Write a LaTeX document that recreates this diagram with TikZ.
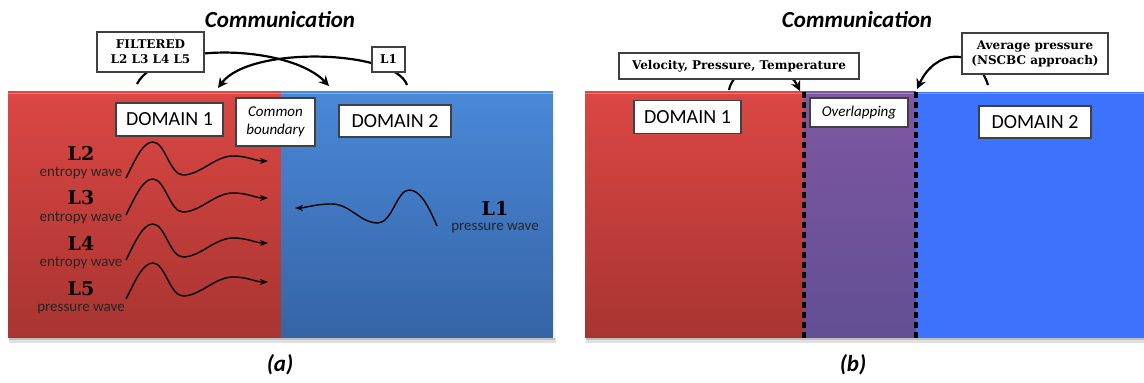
\documentclass[tikz,border=0pt]{standalone}
\usepackage{fontspec}
\setmainfont{Carlito}
\newfontfamily\heavyserif{DejaVu Serif}
\usetikzlibrary{positioning,arrows.meta,calc}
\definecolor{domred}{HTML}{DB4744}
\definecolor{domreddark}{HTML}{A83431}
\definecolor{domblue}{HTML}{4A88D8}
\definecolor{dombluedark}{HTML}{3564A5}
\definecolor{ovlpurple}{HTML}{7E57A2}
\definecolor{ovlpurpledark}{HTML}{624F93}
\definecolor{brightblue}{HTML}{3D72FC}

\begin{document}
\begin{tikzpicture}[x=0.5pt,y=-0.5pt,
  box/.style={draw=black!75, fill=white, line width=0.6pt, inner sep=0pt, align=center},
  domainbox/.style={box, font=\fontsize{10}{12}\selectfont},
  notebox/.style={box, font=\itshape\fontsize{7.5}{9}\selectfont},
  databox/.style={box, font=\heavyserif\bfseries\fontsize{6}{7.5}\selectfont},
  wavename/.style={font=\heavyserif\bfseries\fontsize{9.5}{11}\selectfont},
  wavetype/.style={font=\fontsize{7.5}{9}\selectfont, text=black!85},
  paneltitle/.style={font=\bfseries\itshape\fontsize{11.5}{14}\selectfont},
  comm/.style={line width=1.1pt, -{Stealth[length=5pt,width=5pt]}},
  wave/.style={line width=0.7pt, -{Stealth[length=4pt,width=3pt]}},
  iface/.style={line width=1.6pt, dash pattern=on 3pt off 2pt}]
  \useasboundingbox (0,0) rectangle (1144,383);

  % shadows under the domains
  \fill[black!12] (9,338) rectangle (556,343);
  \fill[black!25] (9,338) rectangle (555,340);
  \fill[black!12] (586,338) rectangle (1144,343);
  \fill[black!25] (586,338) rectangle (1144,340);

  % (a) two domains with a common boundary
  \shade[top color=domred, bottom color=domreddark] (8,92) rectangle (281,338);
  \shade[top color=domblue, bottom color=dombluedark] (281,92) rectangle (553,338);
  \draw[domred!70!white, line width=0.7pt] (8,93.4) -- (281,93.4);
  \draw[domblue!70!white, line width=0.7pt] (281,93.4) -- (553,93.4);

  % (b) overlapping domains
  \shade[top color=domred, bottom color=domreddark] (585,92) rectangle (804,338);
  \shade[top color=ovlpurple, bottom color=ovlpurpledark] (804,92) rectangle (916,338);
  \fill[brightblue] (916,92) rectangle (1144,338);
  \draw[domred!70!white, line width=0.7pt] (585,93.4) -- (804,93.4);
  \draw[ovlpurple!70!white, line width=0.7pt] (804,93.4) -- (916,93.4);
  \draw[brightblue!70!white, line width=0.7pt] (916,93.4) -- (1144,93.4);
  \draw[iface] (804,92) -- (804,338);
  \draw[iface] (916,92) -- (916,338);

  \node[paneltitle] (commA) at (280,20) {Communication};
  \node[paneltitle] (commB) at (857,20) {Communication};
  \node[paneltitle] (capA) at (280,365) {(a)};
  \node[paneltitle] (capB) at (853,365) {(b)};

  % waves leaving domain 1
  \foreach \pk/\ny/\name/\kind in {142/153/L2/entropy wave, 179/198/L3/entropy wave,
                                   224/243/L4/entropy wave, 263/289/L5/pressure wave} {
    \node[wavename] (name\name) at (81,\ny) {\name};
    \node[wavetype] (kind\name) at (81,\ny+20) {\kind};
    \draw[wave] (126,\pk+36) .. controls (136,\pk+16) and (143,\pk) .. (153,\pk)
      .. controls (165,\pk) and (170,\pk+33) .. (183,\pk+33)
      .. controls (200,\pk+33) and (215,\pk+14) .. (233,\pk+14)
      .. controls (248,\pk+14) and (255,\pk+19) .. (268,\pk+19);
  }
  % wave leaving domain 2
  \node[wavename] (nameL1) at (495,208) {L1};
  \node[wavetype] (kindL1) at (495,228) {pressure wave};
  \draw[wave] (437,226) .. controls (428,205) and (420,190) .. (409,190)
    .. controls (397,190) and (392,223) .. (378,223)
    .. controls (360,223) and (350,204) .. (332,204)
    .. controls (315,204) and (305,208) .. (295,208);

  % exchanged data
  \coordinate (outA1) at (137,84);
  \coordinate (inA2) at (329,86);
  \coordinate (outA2) at (407,85);
  \coordinate (inA1) at (218,88);
  \coordinate (outB1) at (729,90);
  \coordinate (inB1) at (800,91);
  \coordinate (outB2) at (988,85);
  \coordinate (inB2) at (917,89);
  \draw[comm] (outA1) .. controls (160,40) and (290,45) .. (inA2);
  \draw[comm] (outA2) .. controls (395,50) and (250,45) .. (inA1);
  \draw[comm] (outB1) .. controls (735,60) and (785,60) .. (inB1);
  \draw[comm] (outB2) .. controls (975,45) and (935,50) .. (inB2);

  \node[databox, minimum width=53.5pt, minimum height=20pt] (filtered) at (150.5,52) {FILTERED\\L2 L3 L4 L5};
  \node[databox, minimum width=16.5pt, minimum height=12.5pt] (sendL1) at (388.5,59.5) {L1};
  \node[databox, minimum width=120pt, minimum height=13pt] (vpt) at (739,66) {Velocity, Pressure, Temperature};
  \node[databox, minimum width=73pt, minimum height=20.5pt] (avgp) at (1035,53.5) {Average pressure\\(NSCBC approach)};

  \node[domainbox, minimum width=53.5pt, minimum height=16.5pt] (domA1) at (169.5,119.5) {DOMAIN 1};
  \node[notebox, minimum width=39.5pt, minimum height=24pt] (common) at (275.5,122) {Common\\boundary};
  \node[domainbox, minimum width=56pt, minimum height=16pt] (domA2) at (395,121) {DOMAIN 2};
  \node[domainbox, minimum width=53.5pt, minimum height=16.5pt] (domB1) at (687.5,117) {DOMAIN 1};
  \node[notebox, minimum width=49pt, minimum height=14.5pt] (overlap) at (859,112.5) {Overlapping};
  \node[domainbox, minimum width=56pt, minimum height=16pt] (domB2) at (1035,122) {DOMAIN 2};
\end{tikzpicture}
\end{document}
